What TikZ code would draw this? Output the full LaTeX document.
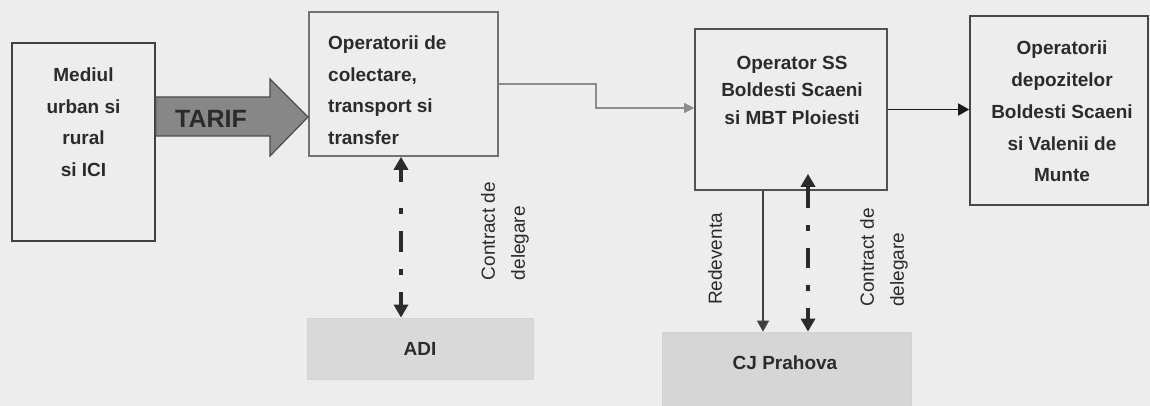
\documentclass[tikz,border=0pt]{standalone}
\usepackage{fontspec}
\setmainfont{Liberation Sans}
\usetikzlibrary{arrows.meta,calc}
\definecolor{bg}{HTML}{EDEDED}
\definecolor{txt}{HTML}{2B2B2B}
\begin{document}
\begin{tikzpicture}[x=1pt,y=-1pt,
  box/.style={draw=#1,fill=bg,line width=1.6pt,inner sep=0pt},
  greybox/.style={draw=#1,inner sep=0pt,line width=0.8pt},
  btxt/.style={text=txt,font=\bfseries\fontsize{19}{31.5}\selectfont,inner sep=0pt},
  rtxt/.style={text=txt,font=\fontsize{19}{30}\selectfont,inner sep=0pt,rotate=90,align=left},
  ddarrow/.style={draw=txt,line width=4.5pt,{Triangle[width=14pt,length=13pt]}-{Triangle[width=14pt,length=13pt]}},
  thinarrow/.style={draw=#1,line width=1.4pt,-{Triangle[width=12pt,length=11pt]}}
]
\clip (0,0) rectangle (1150,406);
\fill[bg] (0,0) rectangle (1150,406);

% boxes
\node[box=black!75,minimum width=143pt,minimum height=198pt] (mediul) at (83.5,142) {};
\node[box=black!55,minimum width=189pt,minimum height=144pt] (colect) at (403.5,84) {};
\node[box=black!68,minimum width=192pt,minimum height=161pt] (opss) at (791,109.5) {};
\node[box=black!72,minimum width=178pt,minimum height=189pt] (depoz) at (1059,110.5) {};
\node[greybox=black!17,fill=black!15,minimum width=226pt,minimum height=61pt,btxt] (adi) at (420,348.5) {ADI};
\node[greybox=black!18,fill=black!16,minimum width=249pt,minimum height=80pt] (cj) at (786.5,372) {};

% texts
\node[btxt,align=center] (mediultxt) at (83.5,122) {Mediul\\urban si\\rural\\si ICI};
\node[btxt,align=left,anchor=west] (colecttxt) at (328,90) {Operatorii de\\colectare,\\transport si\\transfer};
\node[btxt,align=center,font=\bfseries\fontsize{19}{27.5}\selectfont] (opsstxt) at (792,90) {Operator SS\\Boldesti Scaeni\\si MBT Ploiesti};
\node[btxt,align=center,font=\bfseries\fontsize{19}{31.8}\selectfont] (depoztxt) at (1062,111.5) {Operatorii\\depozitelor\\Boldesti Scaeni\\si Valenii de\\Munte};
\node[btxt] (cjtxt) at (785,363) {CJ Prahova};

% TARIF arrow
\draw[draw=black!70,fill=black!47,line width=1.2pt,line join=miter]
  (mediul.east |- 0,97) -- (270,97) -- (270,79) -- (308,117) -- (270,156) -- (270,136) -- (mediul.east |- 0,136) -- cycle;
\node[btxt,font=\bfseries\fontsize{25}{25}\selectfont] (tarif) at (211,119) {TARIF};

% connectors
\coordinate (g1) at (596,108);
\draw[thinarrow=black!45,line width=1.2pt,-{Triangle[width=10pt,length=10pt]}] (colect.east) -| (g1) -- (g1 -| opss.west);
\draw[thinarrow=black!90] (opss.east) -- (opss.east -| depoz.west);
\coordinate (rx) at (763,0);
\draw[thinarrow=black!75] (rx |- opss.south) -- (rx |- cj.north);

\coordinate (d1) at (401,0);
\draw[ddarrow,dash pattern=on 13pt off 26pt on 6pt off 17pt on 21pt off 17pt on 6pt off 17pt on 40pt]
  (d1 |- colect.south) -- (d1 |- adi.north);
\coordinate (d2) at (808,0);
\draw[ddarrow,shorten <=-17pt,dash pattern=on 22pt off 17pt on 6pt off 17pt on 20pt off 17pt on 6pt off 17pt on 40pt]
  (d2 |- opss.south) -- (d2 |- cj.north);

% rotated labels
\node[rtxt] (cd1) at (505,231) {Contract de\\delegare};
\node[rtxt] (red) at (715,259) {Redeventa};
\node[rtxt] (cd2) at (884,257.5) {Contract de\\delegare};
\end{tikzpicture}
\end{document}
